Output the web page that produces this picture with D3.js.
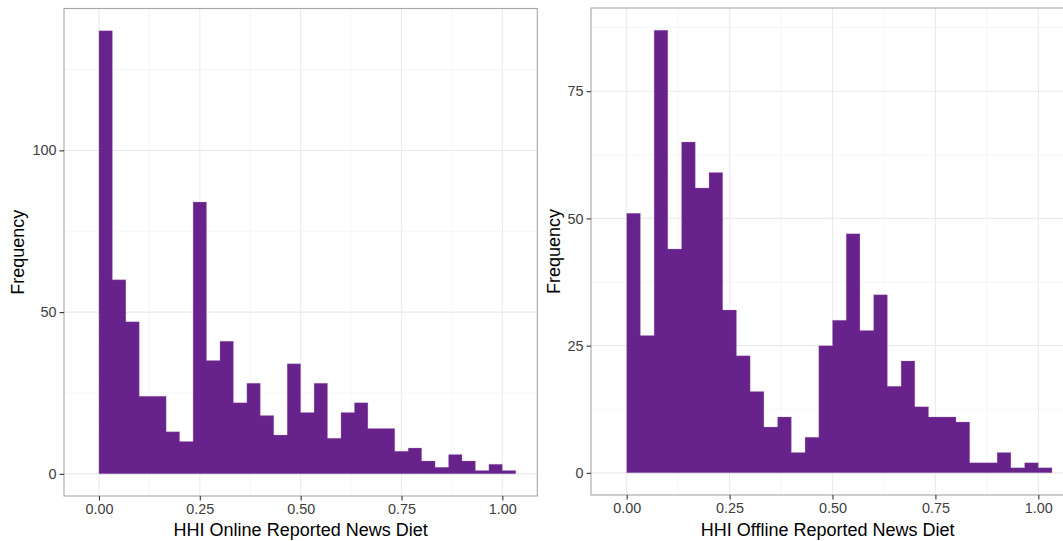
<!DOCTYPE html>
<html>
<head>
<meta charset="utf-8">
<script src="https://cdn.jsdelivr.net/npm/d3@7"></script>
<style>
  body { margin: 0; background: #fff; overflow: hidden; }
  svg { display: block; font-family: "Liberation Sans", Arial, sans-serif; }
</style>
</head>
<body>
<div id="chart"></div>
<script>
// bins of width 1/30 starting at 0 (ggplot also keeps one empty bin just below 0)
var binWidth = 1 / 30;

// counts per bin
var onlineCounts  = [137, 60, 47, 24, 24, 13, 10, 84, 35, 41, 22, 28, 18, 12, 34, 19,
                     28, 11, 19, 22, 14, 14, 7, 8, 4, 2, 6, 4, 1, 3, 1];
var offlineCounts = [51, 27, 87, 44, 65, 56, 59, 32, 23, 16, 9, 11, 4, 7, 25, 30,
                     47, 28, 35, 17, 22, 13, 11, 11, 10, 2, 2, 4, 1, 2, 1];

var xTicks = [0, 0.25, 0.5, 0.75, 1];
var xMinor = [0.125, 0.375, 0.625, 0.875];
var onlineYTicks  = [0, 50, 100];
var onlineYMinor  = [25, 75, 125];
var offlineYTicks = [0, 25, 50, 75];
var offlineYMinor = [12.5, 37.5, 62.5, 87.5];

var xTitles = ["HHI Online Reported News Diet", "HHI Offline Reported News Diet"];

var W = 1063, H = 541;
var barColor = "#68228B";

var svg = d3.select("#chart").append("svg")
    .attr("width", W)
    .attr("height", H);

// panel boxes (pixel frames of each plot area)
var panels = [
  { x0: 64,  x1: 537.3, y0: 8.5, y1: 496, counts: onlineCounts,
    yTicks: onlineYTicks, yMinor: onlineYMinor, title: xTitles[0], yTitleX: 18 },
  { x0: 591, x1: 1074,  y0: 8,   y1: 495, counts: offlineCounts,
    yTicks: offlineYTicks, yMinor: offlineYMinor, title: xTitles[1], yTitleX: 554 }
];

panels.forEach(function(p) {
  var nBins = p.counts.length;
  var lo = -binWidth, hi = nBins * binWidth;     // includes empty bin below 0
  var ex = (hi - lo) * 0.05;
  var x = d3.scaleLinear().domain([lo - ex, hi + ex]).range([p.x0, p.x1]);

  var yMax = d3.max(p.counts);
  var ey = yMax * 0.05;
  var y = d3.scaleLinear().domain([-ey, yMax + ey]).range([p.y1, p.y0]);

  var g = svg.append("g");

  // clip so the right panel is cut at the picture edge the same way
  var clipId = "clip" + p.x0;
  svg.append("clipPath").attr("id", clipId)
    .append("rect")
      .attr("x", p.x0).attr("y", p.y0)
      .attr("width", p.x1 - p.x0).attr("height", p.y1 - p.y0);

  var plot = g.append("g").attr("clip-path", "url(#" + clipId + ")");

  // minor grid
  plot.selectAll(".vminor").data(xMinor).enter().append("line")
      .attr("x1", function(d) { return x(d); }).attr("x2", function(d) { return x(d); })
      .attr("y1", p.y0).attr("y2", p.y1)
      .attr("stroke", "#F4F4F4").attr("stroke-width", 0.8);
  plot.selectAll(".hminor").data(p.yMinor).enter().append("line")
      .attr("y1", function(d) { return y(d); }).attr("y2", function(d) { return y(d); })
      .attr("x1", p.x0).attr("x2", p.x1)
      .attr("stroke", "#F4F4F4").attr("stroke-width", 0.8);

  // major grid
  plot.selectAll(".vmajor").data(xTicks).enter().append("line")
      .attr("x1", function(d) { return x(d); }).attr("x2", function(d) { return x(d); })
      .attr("y1", p.y0).attr("y2", p.y1)
      .attr("stroke", "#EBEBEB").attr("stroke-width", 1.1);
  plot.selectAll(".hmajor").data(p.yTicks).enter().append("line")
      .attr("y1", function(d) { return y(d); }).attr("y2", function(d) { return y(d); })
      .attr("x1", p.x0).attr("x2", p.x1)
      .attr("stroke", "#EBEBEB").attr("stroke-width", 1.1);

  // histogram as one stepped area, so neighbouring bins merge without seams
  var steps = p.counts.map(function(c, i) { return { x: i * binWidth, y: c }; });
  steps.push({ x: nBins * binWidth, y: p.counts[nBins - 1] });

  var area = d3.area()
      .x(function(d) { return x(d.x); })
      .y0(y(0))
      .y1(function(d) { return y(d.y); })
      .curve(d3.curveStepAfter);

  plot.append("path")
      .datum(steps)
      .attr("d", area)
      .attr("fill", barColor)
      .attr("stroke", "#B48FC6")
      .attr("stroke-width", 0.5)
      .attr("stroke-opacity", 0.6);

  // panel border
  g.append("rect")
      .attr("x", p.x0).attr("y", p.y0)
      .attr("width", p.x1 - p.x0).attr("height", p.y1 - p.y0)
      .attr("fill", "none").attr("stroke", "#A6A6A6").attr("stroke-width", 1.1);

  // x axis
  var xAxis = g.append("g")
      .attr("transform", "translate(0," + p.y1 + ")")
      .call(d3.axisBottom(x).tickValues(xTicks).tickFormat(d3.format(".2f"))
              .tickSize(4.5).tickPadding(3));
  xAxis.select(".domain").remove();
  xAxis.selectAll("line").attr("stroke", "#333").attr("stroke-width", 1.1);
  xAxis.selectAll("text").attr("fill", "#404040").style("font-size", "14.4px")
      .attr("font-family", "Liberation Sans, Arial, sans-serif");

  // y axis
  var yAxis = g.append("g")
      .attr("transform", "translate(" + p.x0 + ",0)")
      .call(d3.axisLeft(y).tickValues(p.yTicks).tickSize(4.5).tickPadding(3));
  yAxis.select(".domain").remove();
  yAxis.selectAll("line").attr("stroke", "#333").attr("stroke-width", 1.1);
  yAxis.selectAll("text").attr("fill", "#404040").style("font-size", "14.4px")
      .attr("font-family", "Liberation Sans, Arial, sans-serif");

  // titles
  g.append("text")
      .attr("x", (p.x0 + Math.min(p.x1, 537.3 + (p.x0 - 64))) / 2)
      .attr("y", 536)
      .attr("text-anchor", "middle")
      .style("font-size", "18px")
      .attr("fill", "#000")
      .text(p.title);

  g.append("text")
      .attr("transform", "translate(" + (p.yTitleX + 6) + "," + ((p.y0 + p.y1) / 2) + ") rotate(-90)")
      .attr("text-anchor", "middle")
      .style("font-size", "18px")
      .attr("fill", "#000")
      .text("Frequency");
});
</script>
</body>
</html>
